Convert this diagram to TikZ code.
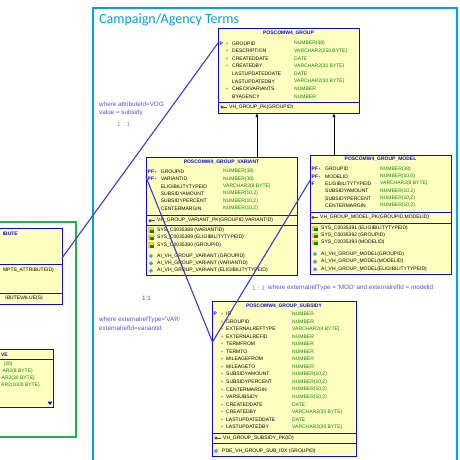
\documentclass[tikz,border=0pt]{standalone}
\usepackage{fontspec}
\usetikzlibrary{arrows.meta}
\newfontfamily\libsans{Liberation Sans}
\newfontfamily\carl{Carlito}
\newcommand\tabf{\libsans\fontsize{5pt}{6pt}\selectfont}
\newcommand\lblf{\libsans\fontsize{6.3pt}{7pt}\selectfont}
\definecolor{frcyan}{HTML}{00A2E8}
\definecolor{frgreen}{HTML}{22B14C}
\definecolor{tblblue}{HTML}{0A0AE6}
\definecolor{tblfill}{HTML}{FFFFC0}
\definecolor{typegreen}{HTML}{008A00}
\definecolor{conn}{HTML}{3B3BCF}
\definecolor{lblblue}{HTML}{5B4FE0}
\definecolor{lblpurple}{HTML}{B070D8}
\definecolor{reqred}{HTML}{E00000}
\definecolor{keygray}{HTML}{505050}
\begin{document}
\begin{tikzpicture}[x=1pt,y=-1pt,
  tbl/.style={draw=tblblue,fill=tblfill,line width=0.9pt,inner sep=0pt,outer sep=0pt},
  sepline/.style={draw=tblblue,line width=0.8pt},
  hdr/.style={font=\tabf\bfseries,text=tblblue,inner sep=0pt},
  colname/.style={anchor=west,font=\tabf,text=black,inner sep=0pt},
  coltype/.style={anchor=west,font=\tabf,text=typegreen,inner sep=0pt},
  reqmark/.style={anchor=west,font=\tabf,text=reqred,inner sep=0pt},
  pkmark/.style={anchor=west,font=\tabf\bfseries,text=tblblue,inner sep=0pt},
  keytxt/.style={anchor=west,font=\tabf,text=black,inner sep=0pt},
  lbl/.style={anchor=west,font=\lblf,text=lblblue,inner sep=0pt},
  lblp/.style={anchor=west,font=\lblf,text=lblpurple,inner sep=0pt},
  connector/.style={draw=conn,line width=1.1pt},
  fkarrow/.style={draw=black,line width=0.8pt,-{Latex[length=4pt,width=3.2pt]}},
  frame/.style={line width=2.6pt}
]
\useasboundingbox (0,0) rectangle (460,460);
\fill[white] (0,0) rectangle (460,460);
\begin{scope}
\clip (0,0) rectangle (460,460);

% frames
\draw[frame,draw=frgreen] (-20,222) rectangle (76,437);
\draw[frame,draw=frcyan] (93,8) rectangle (457,490);
\node[anchor=west,font=\carl\fontsize{14pt}{16pt}\selectfont,text=frcyan,inner sep=0pt] (title) at (99,20) {Campaign/Agency Terms};

% ---------- left tables (partly hidden) ----------
\node[tbl,minimum width=92pt,minimum height=76pt] (ta) at (16,266) {};
\draw[sepline] (-30,264) -- (62,264);
\draw[sepline] (-30,293) -- (62,293);
\node[hdr,anchor=east] (taH) at (18,234) {IBUTE};
\node[keytxt,anchor=east] (taK1) at (54,270) {MPTS\_ATTRIBUTEID)};
\node[keytxt,anchor=east] (taK2) at (43,298) {IBUTEVALUE(S)};

\node[tbl,minimum width=83pt,minimum height=58pt] (tb) at (11.5,378) {};
\draw[sepline] (-30,359) -- (53,359);
\node[hdr,anchor=east] (tbH) at (8,355) {VE};
\node[coltype,anchor=east] (tbT1) at (12.7,364.5) {(20)};
\node[coltype,anchor=east] (tbT2) at (33,371.7) {AR2(8 BYTE)};
\node[coltype,anchor=east] (tbT3) at (35,378.5) {AR2(30 BYTE)};
\node[coltype,anchor=east] (tbT4) at (40,385.5) {AR2(1000 BYTE)};
\fill[tblblue] (47.5,401.5) -- (52.5,401.5) -- (50,405) -- cycle;

% ---------- POSCOMW4_GROUP ----------
\node[tbl,minimum width=141pt,minimum height=85pt] (grp) at (288.5,70.5) {};
\node[hdr] (grpH) at (288.5,33) {POSCOMW4\_GROUP};
\foreach \y/\n/\t/\r [count=\i] in {
  43.3/GROUPID/{NUMBER(38)}/1,
  51/DESCRIPTION/{VARCHAR2(250 BYTE)}/1,
  58.6/CREATEDDATE/DATE/1,
  66.2/CREATEDBY/{VARCHAR2(30 BYTE)}/1,
  73.8/LASTUPDATEDDATE/DATE/0,
  81.4/LASTUPDATEDBY/{VARCHAR2(30 BYTE)}/0,
  89/CHECKVARIANTS/NUMBER/1,
  96.6/BYAGENCY/NUMBER/0}{
  \node[colname] (g-n\i) at (232,\y) {\n};
  \node[coltype] (g-t\i) at (294,\y) {\t};
  \ifnum\r=1 \node[reqmark] (g-r\i) at (226,\y+1) {*};\fi
}
\node[pkmark] (g-p1) at (219.5,43.3) {P};
\draw[sepline] (218,102) -- (359,102);
\fill[keygray] (222,107) circle (1.7);
\draw[keygray,line width=0.9pt] (223,107) -- (227,107);
\node[keytxt] (g-k) at (229,107) {VH\_GROUP\_PK(GROUPID)};

% ---------- POSCOMW4_GROUP_VARIANT ----------
\node[tbl,minimum width=151pt,minimum height=118pt] (var) at (221.5,216) {};
\node[hdr] (varH) at (221.5,162) {POSCOMW4\_GROUP\_VARIANT};
\foreach \y/\n/\t/\r [count=\i] in {
  171.7/GROUPID/{NUMBER(38)}/1,
  179/VARIANTID/{NUMBER(38)}/1,
  186.3/ELIGIBILITYTYPEID/{VARCHAR2(8 BYTE)}/0,
  193.6/SUBSIDYAMOUNT/{NUMBER(10,2)}/0,
  201/SUBSIDYPERCENT/{NUMBER(10,2)}/0,
  208.3/CENTERMARGIN/{NUMBER(10,2)}/0}{
  \node[colname] (v-n\i) at (160.7,\y) {\n};
  \node[coltype] (v-t\i) at (223,\y) {\t};
  \ifnum\r=1
    \node[pkmark] (v-p\i) at (147.5,\y) {PF};
    \node[reqmark] (v-r\i) at (154.5,\y+1) {*};
  \fi
}
\draw[sepline] (146,215) -- (297,215);
\fill[keygray] (150,220.7) circle (1.7);
\draw[keygray,line width=0.9pt] (151,220.7) -- (155,220.7);
\node[keytxt] (v-k) at (157,220.7) {VH\_GROUP\_VARIANT\_PK(GROUPID,VARIANTID)};
\draw[sepline] (146,225) -- (297,225);
\foreach \y/\n [count=\i] in {230/{SYS\_C0035388 (VARIANTID)},237.7/{SYS\_C0035389 (ELIGIBILITYTYPEID)},245/{SYS\_C0035390 (GROUPID)}}{
  \fill[yellow!70!orange] (148,\y-2.6) rectangle (154,\y+2.6);
  \fill[green!55!black] (150,\y-0.5) rectangle (154,\y+2.6);
  \node[keytxt] (v-s\i) at (157,\y) {\n};
}
\foreach \y/\n [count=\i] in {256/{AI\_VH\_GROUP\_VARIANT (GROUPID)},263.3/{AI\_VH\_GROUP\_VARIANT (VARIANTID)},270.7/{AI\_VH\_GROUP\_VARIANT (ELIGIBILITYTYPEID)}}{
  \fill[cyan!45!blue!60] (151,\y-2.2) -- (153.2,\y) -- (151,\y+2.2) -- (148.8,\y) -- cycle;
  \node[keytxt] (v-x\i) at (157,\y) {\n};
}

% ---------- POSCOMW4_GROUP_MODEL ----------
\node[tbl,minimum width=141pt,minimum height=119pt] (mod) at (380.5,214.5) {};
\node[hdr] (modH) at (380.5,159.5) {POSCOMW4\_GROUP\_MODEL};
\foreach \y/\n/\t/\r [count=\i] in {
  169/GROUPID/{NUMBER(38)}/1,
  176.3/MODELID/{NUMBER(10,0)}/1,
  183.6/ELIGIBILITYTYPEID/{VARCHAR2(8 BYTE)}/2,
  191/SUBSIDYAMOUNT/{NUMBER(10,2)}/0,
  198.3/SUBSIDYPERCENT/{NUMBER(10,2)}/0,
  205.6/CENTERMARGIN/{NUMBER(10,2)}/0}{
  \node[colname] (m-n\i) at (325,\y) {\n};
  \node[coltype] (m-t\i) at (380,\y) {\t};
  \ifnum\r=1
    \node[pkmark] (m-p\i) at (311.5,\y) {PF};
    \node[reqmark] (m-r\i) at (318.5,\y+1) {*};
  \fi
  \ifnum\r=2
    \node[pkmark] (m-p\i) at (311.5,\y) {F};
  \fi
}
\draw[sepline] (310,212) -- (451,212);
\fill[keygray] (313,217.5) circle (1.7);
\draw[keygray,line width=0.9pt] (314,217.5) -- (318,217.5);
\node[keytxt] (m-k) at (320,217.5) {VH\_GROUP\_MODEL\_PK(GROUPID,MODELID)};
\draw[sepline] (310,223) -- (451,223);
\foreach \y/\n [count=\i] in {228.5/{SYS\_C0035391 (ELIGIBILITYTYPEID)},235.5/{SYS\_C0035392 (GROUPID)},242.7/{SYS\_C0035393 (MODELID)}}{
  \fill[yellow!70!orange] (312,\y-2.6) rectangle (318,\y+2.6);
  \fill[green!55!black] (314,\y-0.5) rectangle (318,\y+2.6);
  \node[keytxt] (m-s\i) at (321,\y) {\n};
}
\foreach \y/\n [count=\i] in {254/{AI\_VH\_GROUP\_MODEL(GROUPID)},261.7/{AI\_VH\_GROUP\_MODEL(MODELID)},269.3/{AI\_VH\_GROUP\_MODEL(ELIGIBILITYTYPEID)}}{
  \fill[cyan!45!blue!60] (315,\y-2.2) -- (317.2,\y) -- (315,\y+2.2) -- (312.8,\y) -- cycle;
  \node[keytxt] (m-x\i) at (321,\y) {\n};
}

% ---------- POSCOMW4_GROUP_SUBSIDY ----------
\node[tbl,minimum width=144pt,minimum height=155pt] (sub) at (284,378.5) {};
\node[hdr] (subH) at (284,306.5) {POSCOMW4\_GROUP\_SUBSIDY};
\foreach \n/\t [count=\i] in {
  ID/NUMBER, GROUPID/NUMBER, EXTERNALREFTYPE/{VARCHAR2(4 BYTE)}, EXTERNALREFID/NUMBER,
  TERMFROM/NUMBER, TERMTO/NUMBER, MILEAGEFROM/NUMBER, MILEAGETO/NUMBER,
  SUBSIDYAMOUNT/{NUMBER(10,2)}, SUBSIDYPERCENT/{NUMBER(10,2)}, CENTERMARGIN/{NUMBER(10,2)},
  VARSUBSIDY/{NUMBER(10,2)}, CREATEDDATE/DATE, CREATEDBY/{VARCHAR2(30 BYTE)},
  LASTUPDATEDDATE/DATE, LASTUPDATEDBY/{VARCHAR2(30 BYTE)}}{
  \node[colname] (s-n\i) at (226,{314+(\i-1)*7.53}) {\n};
  \node[coltype] (s-t\i) at (292,{314+(\i-1)*7.53}) {\t};
  \node[reqmark] (s-r\i) at (221,{315+(\i-1)*7.53}) {*};
}
\node[pkmark] (s-p1) at (213.5,314) {P};
\draw[sepline] (212,433) -- (356,433);
\fill[keygray] (216,438) circle (1.7);
\draw[keygray,line width=0.9pt] (217,438) -- (221,438);
\node[keytxt] (s-k) at (223,438) {VH\_GROUP\_SUBSIDY\_PK(ID)};
\draw[sepline] (212,443.5) -- (356,443.5);
\fill[cyan!45!blue!60] (216,448.8) -- (218.2,451) -- (216,453.2) -- (213.8,451) -- cycle;
\node[keytxt] (s-x1) at (222,451) {PDE\_VH\_GROUP\_SUB\_IDX (GROUPID)};

% ---------- labels ----------
\node[lbl] (l1) at (99,104.5) {where attributeId=VOG};
\node[lbl] (l2) at (99,112.5) {value = subsidy};
\node[lblp] (l3) at (117,124) {1 : 1};
\node[lbl] (l4) at (142,298) {1:1};
\node[lbl] (l5) at (99,320) {where externalrefType='VAR'};
\node[lbl] (l6) at (99,328) {externalrefId=variantid};
\node[lblp] (l7) at (252,288) {1 : 1};
\node[lbl] (l8) at (268,288) {where externalrefType = 'MOD' and externalrefId = modelid};

% ---------- connectors ----------
\coordinate (aR) at (62,258);
\coordinate (gL) at (218,43);
\coordinate (vL) at (146,177);
\coordinate (sV) at (212.5,342);
\coordinate (mL) at (310,180.5);
\coordinate (vT) at (257,157);
\coordinate (gB1) at (257,113);
\coordinate (mT) at (334,155);
\coordinate (gB2) at (334,113);
\draw[connector] (aR) -- (gL);
\draw[connector] (vL) -- (sV);
\draw[connector] (sV) -- (mL);
\draw[fkarrow] (vT) -- (gB1);
\draw[fkarrow] (mT) -- (gB2);
\end{scope}
\end{tikzpicture}
\end{document}
